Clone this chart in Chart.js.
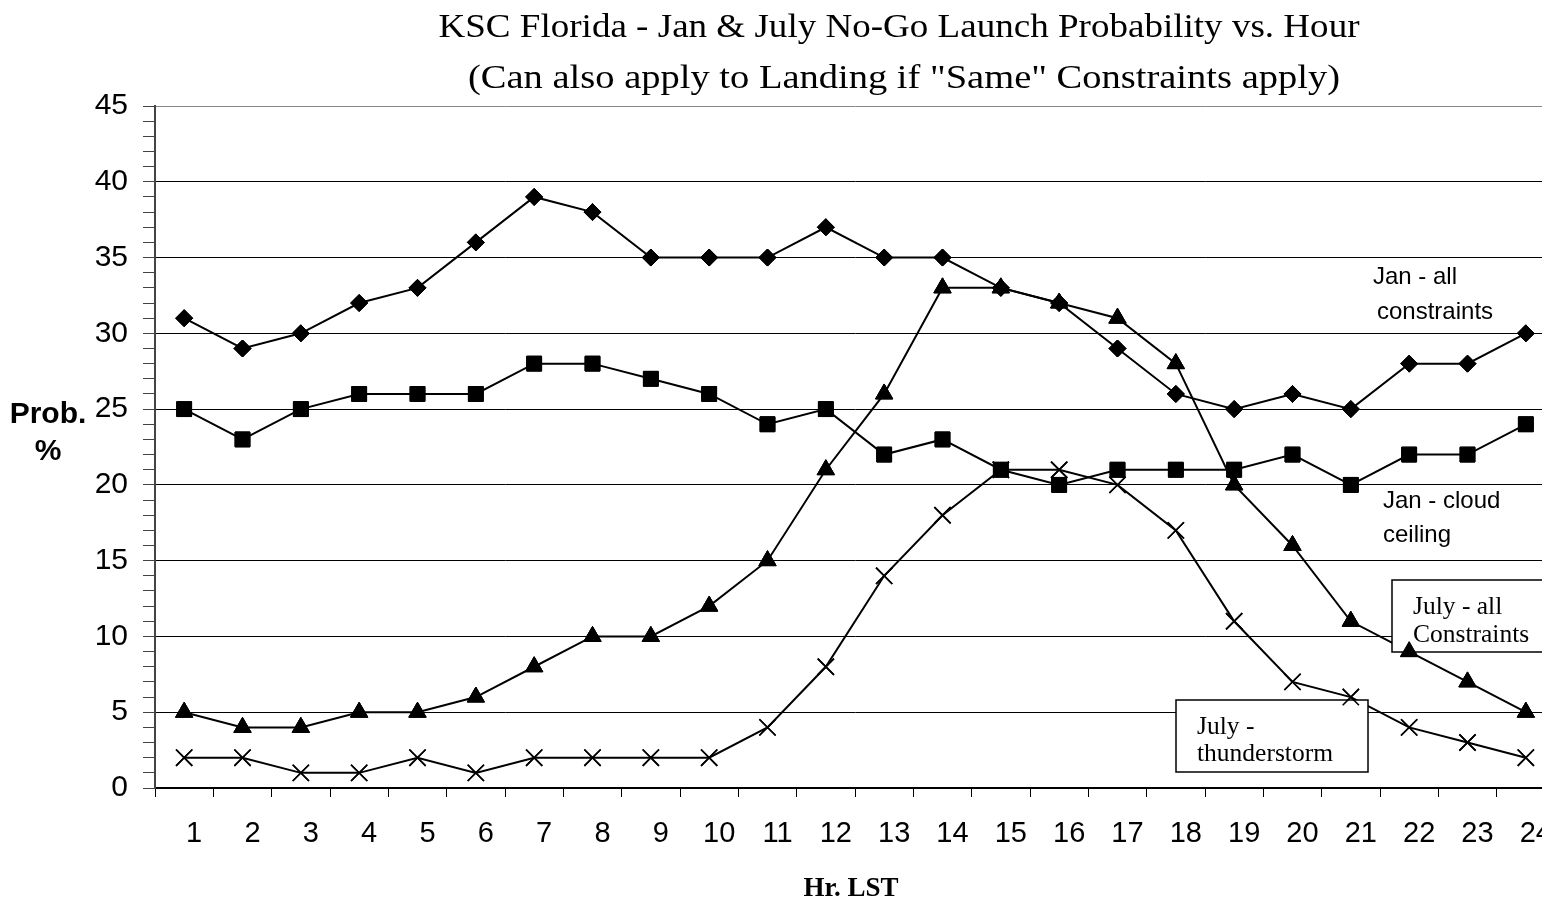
<!DOCTYPE html>
<html>
<head>
<meta charset="utf-8">
<title>KSC Florida - Jan &amp; July No-Go Launch Probability vs. Hour</title>
<script src="https://cdn.jsdelivr.net/npm/chart.js@4.4.1/dist/chart.umd.min.js"></script>
<style>
  html, body { margin: 0; padding: 0; background: #fff; overflow: hidden; }
  #wrap { position: relative; width: 1542px; height: 900px; overflow: hidden; }
  #chart { position: absolute; left: 0; top: 0; }
</style>
</head>
<body>
<div id="wrap"><canvas id="chart" width="1580" height="900"></canvas></div>
<script>
// Hour of day (local standard time)
const hours = ['1','2','3','4','5','6','7','8','9','10','11','12',
               '13','14','15','16','17','18','19','20','21','22','23','24'];

// No-go probability (%) by hour
const janAllConstraints  = [31,29,30,32,33,36,39,38,35,35,35,37,35,35,33,32,29,26,25,26,25,28,28,30];
const janCloudCeiling    = [25,23,25,26,26,26,28,28,27,26,24,25,22,23,21,20,21,21,21,22,20,22,22,24];
const julyAllConstraints = [5,4,4,5,5,6,8,10,10,12,15,21,26,33,33,32,31,28,20,16,11,9,7,5];
const julyThunderstorm   = [2,2,1,1,2,1,2,2,2,2,4,8,14,18,21,21,20,17,11,7,6,4,3,2];

// Value axis range
const yMin = 0;
const yMax = 45;
const yMajorStep = 5;

// Text
const titleLines = ['KSC Florida - Jan & July No-Go Launch Probability vs. Hour',
                    '(Can also apply to Landing if "Same" Constraints apply)'];
const yTitleLines = ['Prob.', '%'];
const xTitle = 'Hr. LST';

const SANS = '"Liberation Sans", Arial, sans-serif';
const SERIF = '"Liberation Serif", "Times New Roman", serif';

function series(label, data, pointStyle, radius, borderW) {
  return {
    label, data,
    borderColor: '#000',
    backgroundColor: '#000',
    borderWidth: 2,
    tension: 0,
    fill: false,
    pointStyle,
    pointRadius: radius,
    pointHoverRadius: radius,
    pointBackgroundColor: '#000',
    pointBorderColor: '#000',
    pointBorderWidth: borderW
  };
}

// Free-floating series labels; boxed ones sit above the lines
const plainNotes = [
  { text: 'Jan - all',    x: 1373, y: 284 },
  { text: 'constraints',  x: 1377, y: 319 },
  { text: 'Jan - cloud',  x: 1383, y: 508 },
  { text: 'ceiling',      x: 1383, y: 542 }
];
const boxedNotes = [
  { x: 1392, y: 580, w: 180, h: 72, lines: ['July - all', 'Constraints'], tx: 1413, ty: [614, 642] },
  { x: 1176, y: 700, w: 192, h: 72, lines: ['July -', 'thunderstorm'], tx: 1197, ty: [734, 761] }
];

// Draw a centred line of text, stretched sideways to a given width
function stretchedText(ctx, text, cx, y, width) {
  const w = ctx.measureText(text).width;
  const k = width / w;
  ctx.save();
  ctx.translate(cx, y);
  ctx.scale(k, 1);
  ctx.textAlign = 'center';
  ctx.fillText(text, 0, 0);
  ctx.restore();
}

const decorPlugin = {
  id: 'decor',
  afterDatasetsDraw(chart) {
    const ctx = chart.ctx;
    ctx.save();
    boxedNotes.forEach(b => {
      ctx.fillStyle = '#fff';
      ctx.fillRect(b.x, b.y, b.w, b.h);
      ctx.strokeStyle = '#000';
      ctx.lineWidth = 1.5;
      ctx.strokeRect(b.x, b.y, b.w, b.h);
      ctx.fillStyle = '#000';
      ctx.font = '25.5px ' + SERIF;
      ctx.textAlign = 'left';
      ctx.textBaseline = 'alphabetic';
      b.lines.forEach((t, i) => ctx.fillText(t, b.tx, b.ty[i]));
    });
    ctx.restore();
    // markers stay on top of the label boxes
    chart.data.datasets.forEach((ds, i) => {
      const meta = chart.getDatasetMeta(i);
      meta.data.forEach(pt => pt.draw(ctx, chart.chartArea));
    });
  },
  afterDraw(chart) {
    const ctx = chart.ctx;
    ctx.save();
    ctx.fillStyle = '#000';
    ctx.textBaseline = 'alphabetic';

    ctx.font = '34px ' + SERIF;
    stretchedText(ctx, titleLines[0], 899, 37, 921);
    stretchedText(ctx, titleLines[1], 904, 88, 872);

    ctx.textAlign = 'center';
    ctx.font = 'bold 30px ' + SANS;
    ctx.fillText(yTitleLines[0], 48, 423);
    ctx.fillText(yTitleLines[1], 48, 460);

    ctx.font = 'bold 27px ' + SERIF;
    ctx.fillText(xTitle, 851, 896);

    ctx.font = '24px ' + SANS;
    ctx.textAlign = 'left';
    plainNotes.forEach(n => ctx.fillText(n.text, n.x, n.y));
    ctx.restore();
  }
};

new Chart(document.getElementById('chart'), {
  type: 'line',
  data: {
    labels: hours,
    datasets: [
      series('Jan - all constraints', janAllConstraints, 'rectRot', 8.5, 1),
      series('Jan - cloud ceiling', janCloudCeiling, 'rect', 10.5, 1),
      series('July - all Constraints', julyAllConstraints, 'triangle', 10, 1),
      series('July - thunderstorm', julyThunderstorm, 'crossRot', 11.5, 1.6)
    ]
  },
  options: {
    responsive: false,
    animation: false,
    devicePixelRatio: 1,
    layout: { padding: { top: 106, right: 25, left: 0, bottom: 0 } },
    plugins: {
      legend: { display: false },
      title: { display: false },
      tooltip: { enabled: false }
    },
    events: [],
    scales: {
      x: {
        type: 'category',
        offset: true,
        grid: {
          offset: true,
          drawOnChartArea: false,
          drawTicks: true,
          tickLength: 9,
          color: '#000',
          lineWidth: 1
        },
        border: { display: true, color: '#000', width: 1.5 },
        ticks: {
          color: '#000',
          font: { family: SANS, size: 29 },
          labelOffset: 10,
          padding: 20,
          maxRotation: 0,
          autoSkip: false
        },
        afterFit(scale) { scale.height = 112; }
      },
      y: {
        min: yMin,
        max: yMax,
        grid: {
          color: ctx => {
            const v = ctx.tick.value;
            if (v === yMax) return '#888';
            return v % yMajorStep === 0 ? '#000' : 'rgba(0,0,0,0)';
          },
          tickColor: '#444',
          tickLength: 12,
          lineWidth: 1
        },
        border: { display: true, color: '#444', width: 2 },
        ticks: {
          stepSize: 1,
          autoSkip: false,
          color: '#000',
          font: { family: SANS, size: 30 },
          padding: 15,
          callback: v => (v % yMajorStep === 0 ? v : '')
        },
        afterFit(scale) { scale.width = 155; }
      }
    }
  },
  plugins: [decorPlugin]
});
</script>
</body>
</html>
